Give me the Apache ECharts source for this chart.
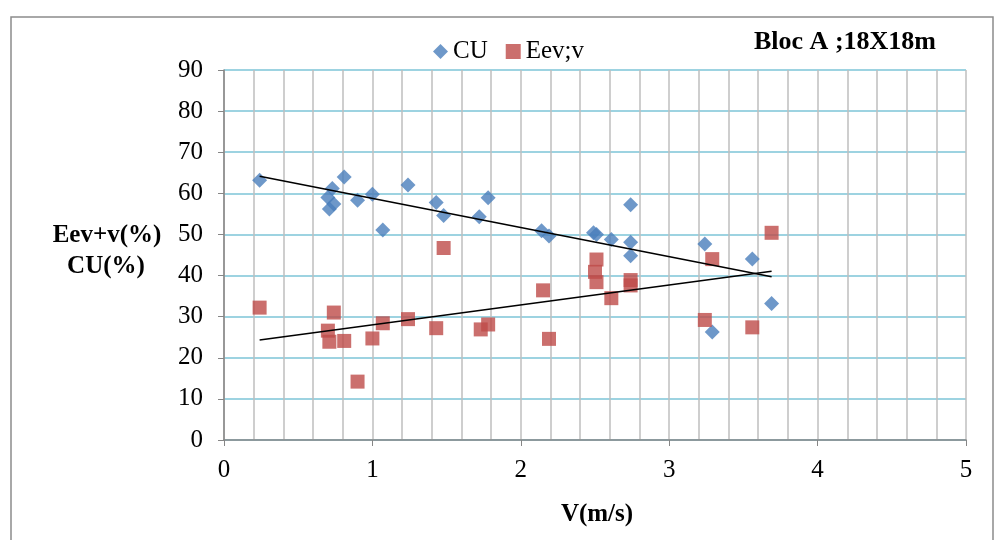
<!DOCTYPE html>
<html><head><meta charset="utf-8">
<script src="https://cdn.jsdelivr.net/npm/echarts@6/dist/echarts.min.js"></script>
<style>html,body{margin:0;padding:0;background:#fff}#c{width:996px;height:540px}</style>
</head><body><div id="c"></div>
<script>
const cuX = [0.24,0.70,0.73,0.71,0.74,0.81,0.90,1.00,1.07,1.24,1.43,1.48,1.72,1.78,2.14,2.19,2.49,2.51,2.61,2.74,2.74,2.74,3.24,3.29,3.56,3.69];
const cuY = [63.2,59.0,61.2,56.2,57.4,64.0,58.3,59.8,51.1,62.0,57.8,54.6,54.3,58.9,50.9,49.6,50.4,50.0,48.8,57.2,48.1,44.8,47.7,26.3,44.0,33.2];
const evX = [0.24,0.74,0.70,0.71,0.81,0.90,1.00,1.07,1.24,1.43,1.48,1.73,1.78,2.15,2.19,2.51,2.50,2.51,2.61,2.74,2.74,3.24,3.29,3.56,3.69];
const evY = [32.2,31.0,26.6,23.9,24.1,14.2,24.7,28.4,29.4,27.2,46.7,26.9,28.1,36.4,24.6,43.9,40.9,38.4,34.5,38.9,37.6,29.2,44.0,27.4,50.4];
const xTicks = [0,1,2,3,4,5];
const yTicks = [0,10,20,30,40,50,60,70,80,90];

function fit(xs, ys){
  const n = xs.length;
  let sx=0,sy=0,sxx=0,sxy=0;
  for(let i=0;i<n;i++){sx+=xs[i];sy+=ys[i];sxx+=xs[i]*xs[i];sxy+=xs[i]*ys[i];}
  const b=(n*sxy-sx*sy)/(n*sxx-sx*sx), a=(sy-b*sx)/n;
  const x0=Math.min(...xs), x1=Math.max(...xs);
  return [[x0,a+b*x0],[x1,a+b*x1]];
}
const font = "'Liberation Serif','Times New Roman',serif";
const chart = echarts.init(document.getElementById('c'));
chart.setOption({
  animation:false,
  backgroundColor:'#fff',
  grid:{left:224,right:30,top:70,bottom:100},
  legend:{
    top:34,left:428, itemGap:18, itemWidth:15, itemHeight:15,
    textStyle:{fontFamily:font,fontSize:25,color:'#000'},
    data:[{name:'CU',icon:'diamond'},{name:'Eev;v',icon:'rect'}]
  },
  graphic:[
    {type:'rect',shape:{x:11,y:17,width:982,height:540},style:{fill:'none',stroke:'#8c8c8c',lineWidth:1.5},silent:true},
    {type:'text',left:754,top:29,style:{text:'Bloc A ;18X18m',font:'bold 26px '+font,fill:'#000'}},
    {type:'text',x:107,y:223,style:{text:'Eev+v(%)',font:'bold 25px '+font,fill:'#000',textAlign:'center'}},
    {type:'text',x:106,y:254,style:{text:'CU(%)',font:'bold 25px '+font,fill:'#000',textAlign:'center'}},
    {type:'text',x:597,y:502,style:{text:'V(m/s)',font:'bold 25px '+font,fill:'#000',textAlign:'center'}}
  ],
  xAxis:{
    type:'value',min:xTicks[0],max:xTicks[xTicks.length-1],interval:1,
    axisLine:{onZero:false,lineStyle:{color:'#868686',width:1.5}},
    axisTick:{show:true,length:6,lineStyle:{color:'#868686'}},
    axisLabel:{fontFamily:font,fontSize:25,color:'#000',margin:18},
    splitLine:{show:true,lineStyle:{color:'#bfbfbf',width:1.5}},
    minorTick:{show:false,splitNumber:5},
    minorSplitLine:{show:true,lineStyle:{color:'#bfbfbf',width:1.5}}
  },
  yAxis:{
    type:'value',min:yTicks[0],max:yTicks[yTicks.length-1],interval:10,
    axisLine:{show:true,lineStyle:{color:'#868686',width:1.5}},
    axisTick:{show:true,length:6,lineStyle:{color:'#868686'}},
    axisLabel:{fontFamily:font,fontSize:25,color:'#000',margin:21},
    splitLine:{show:true,lineStyle:{color:'#7cc4d7',width:1.5}}
  },
  series:[
    {name:'CU',type:'scatter',symbol:'diamond',symbolSize:15,itemStyle:{color:'#4a7ebb'},data:cuX.map((x,i)=>[x,cuY[i]]),z:3},
    {name:'Eev;v',type:'scatter',symbol:'rect',symbolSize:14,itemStyle:{color:'#be4b48'},data:evX.map((x,i)=>[x,evY[i]]),z:3},
    {name:'trendCU',type:'line',data:fit(cuX,cuY),showSymbol:false,symbol:'none',lineStyle:{color:'#000',width:1.6},z:4},
    {name:'trendEv',type:'line',data:fit(evX,evY),showSymbol:false,symbol:'none',lineStyle:{color:'#000',width:1.6},z:4}
  ]
});
</script></body></html>
